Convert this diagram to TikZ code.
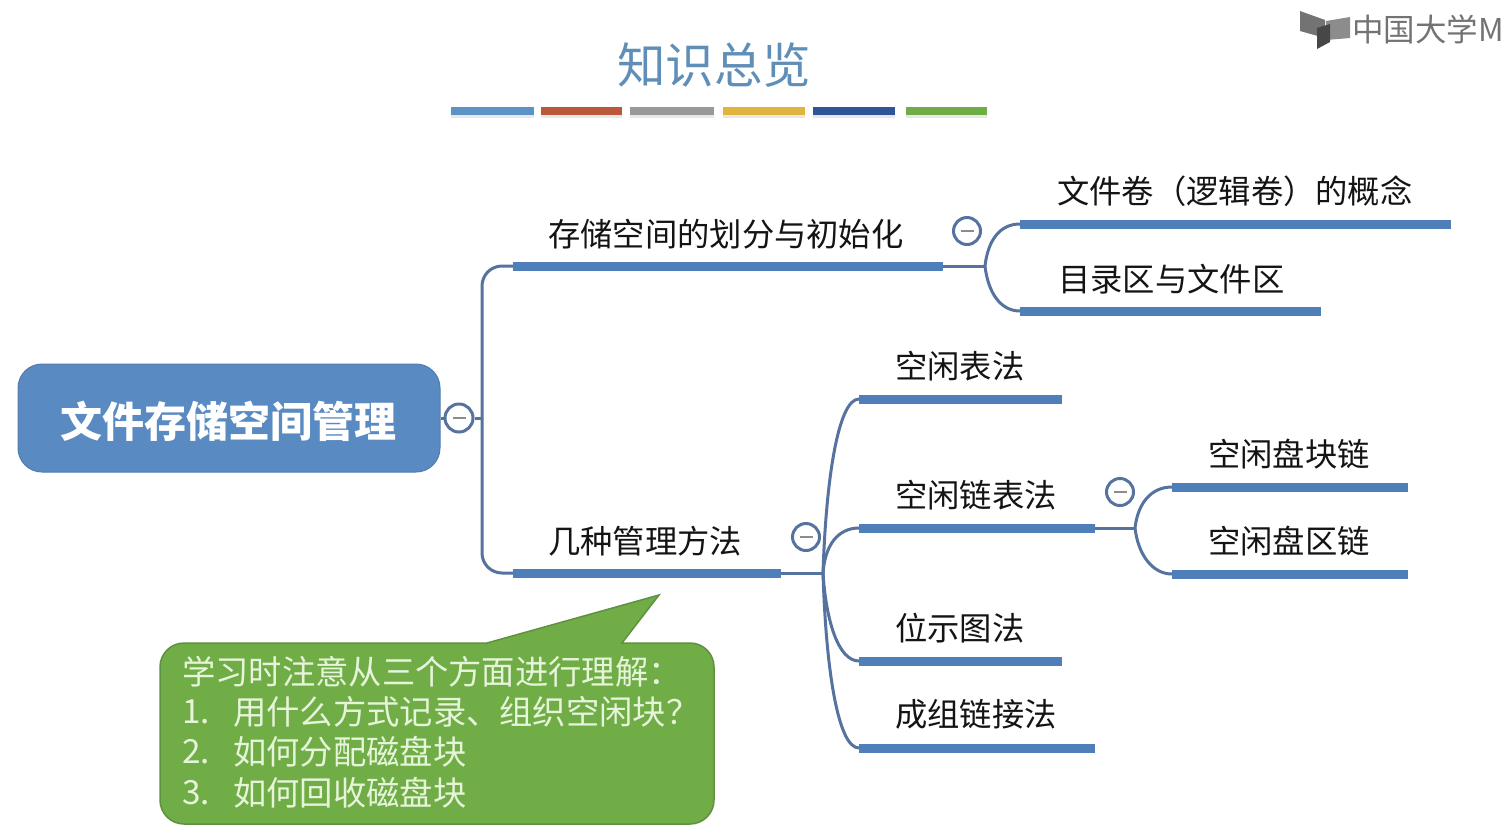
\documentclass[tikz,border=0pt]{standalone}
\usepackage{fontspec}
\setmainfont{Noto Sans CJK SC}
\definecolor{barblue}{HTML}{4F7FB9}
\definecolor{linkblue}{HTML}{56729F}
\definecolor{rootblue}{HTML}{5A8AC2}
\definecolor{calloutgreen}{HTML}{70AD47}
\definecolor{calloutedge}{HTML}{5E9140}
\definecolor{callouttext}{HTML}{E6F5D9}
\definecolor{titleblue}{HTML}{5F8FB8}
\definecolor{labeltext}{HTML}{141414}
\newcommand{\fsz}[1]{\fontsize{#1}{#1}\selectfont}
\newcommand{\minusbar}{\textcolor{black!45}{\rule[-1.4pt]{13pt}{2.8pt}}}
\tikzset{
  x=1pt,y=-1pt,
  barline/.style={draw=none,fill=barblue,rectangle,inner sep=0pt,outer sep=0pt,minimum height=9pt,anchor=west},
  lbl/.style={anchor=west,inner sep=0pt,text=labeltext,font=\fsz{32.3}},
  link/.style={draw=linkblue,line width=3pt},
  toggle/.style={circle,draw=linkblue,fill=white,line width=3pt,minimum size=28pt,inner sep=0pt},
  toggleB/.style={toggle,minimum size=27pt},
  swatch/.style={rectangle,inner sep=0pt,minimum height=8pt,anchor=west},
  swshadow/.style={fill=black!9,draw=none},
  noteline/.style={anchor=west,inner sep=0pt,text=callouttext,font=\fsz{33.3}},
}
\begin{document}
\begin{tikzpicture}
\useasboundingbox[fill=white] (0,0) rectangle (1502,831);

% title
\node[anchor=center,inner sep=0pt,text=titleblue,font=\fsz{48.5}] (title) at (714,65) {知识总览};
\foreach \a/\b/\c/\n in {451/534/5B93C5/s1,541/622/B9583B/s2,630/714/999999/s3,723/805/E3B341/s4,813/895/2F5597/s5,906/987/70AD47/s6}{
  \definecolor{swc}{HTML}{\c}
  \fill[swshadow] (\a,111) rectangle (\b,118);
  \pgfmathsetlengthmacro{\w}{(\b-\a)*1pt}
  \node[swatch,fill=swc,minimum width=\w] (\n) at (\a,111) {};
}

% logo
\fill[black!55] (1300,11) -- (1325,20) -- (1325,38) -- (1300,31) -- cycle;
\fill[black!45] (1326,21) -- (1350,17) -- (1350,38) -- (1326,40) -- cycle;
\fill[black!72] (1317,28) -- (1330,24) -- (1330,42) -- (1317,49) -- cycle;
\node[anchor=west,inner sep=0pt,text=black!55,font=\fsz{31.5}] (logo) at (1352,29) {中国大学M};

% root
\node[rectangle,rounded corners=24pt,fill=rootblue,draw=rootblue!90!black,line width=1pt,minimum width=422pt,minimum height=108pt,inner sep=0pt] (root) at (229,418) {};
\node[inner sep=0pt,text=white,font=\fsz{42}\bfseries] (rootText) at (228,421) {文件存储空间管理};
\node[toggle] (tgR) at (459,418) {\minusbar};
\coordinate (jR) at (482,418);
\draw[link] (root.east) -- (tgR.west);
\draw[link] (tgR.east) -- (jR);

% level 1
\node[barline,minimum width=430pt] (barA) at (513,266) {};
\node[lbl] (txtA) at (548,234) {存储空间的划分与初始化};
\node[barline,minimum width=268pt] (barB) at (513,573) {};
\node[lbl] (txtB) at (548,541) {几种管理方法};
\draw[link,rounded corners=20pt] (jR) |- (barA.west);
\draw[link,rounded corners=20pt] (jR) |- (barB.west);

% branch A
\coordinate (jA) at (985,266);
\node[barline,minimum width=431pt] (barA1) at (1020,224) {};
\node[lbl] (txtA1) at (1057,191) {文件卷（逻辑卷）的概念};
\node[barline,minimum width=301pt] (barA2) at (1020,311) {};
\node[lbl] (txtA2) at (1058,279) {目录区与文件区};
\node[toggleB] (tgA) at (967,231) {\minusbar};
\draw[link] (barA.east) -- (jA);
\draw[link] (jA) .. controls (988,240) and (1000,224) .. (barA1.west);
\draw[link] (jA) .. controls (988,292) and (1000,311) .. (barA2.west);

% branch B
\coordinate (jB) at (823,573);
\node[barline,minimum width=203pt] (barB1) at (859,399) {};
\node[lbl] (txtB1) at (895,366) {空闲表法};
\node[barline,minimum width=236pt] (barB2) at (859,528) {};
\node[lbl] (txtB2) at (895,495) {空闲链表法};
\node[barline,minimum width=203pt] (barB3) at (859,661) {};
\node[lbl] (txtB3) at (895,628) {位示图法};
\node[barline,minimum width=236pt] (barB4) at (859,748) {};
\node[lbl] (txtB4) at (895,714) {成组链接法};
\node[toggleB] (tgB) at (806,537) {\minusbar};
\draw[link] (barB.east) -- (jB);
\draw[link] (jB) .. controls (826,480) and (838,399) .. (barB1.west);
\draw[link] (jB) .. controls (825,545) and (838,528) .. (barB2.west);
\draw[link] (jB) .. controls (826,620) and (838,661) .. (barB3.west);
\draw[link] (jB) .. controls (826,670) and (838,748) .. (barB4.west);

% branch B2
\coordinate (jC) at (1135,528);
\node[barline,minimum width=236pt] (barC1) at (1172,487) {};
\node[lbl] (txtC1) at (1208,454) {空闲盘块链};
\node[barline,minimum width=236pt] (barC2) at (1172,574) {};
\node[lbl] (txtC2) at (1208,541) {空闲盘区链};
\node[toggleB] (tgC) at (1120,492) {\minusbar};
\draw[link] (barB2.east) -- (jC);
\draw[link] (jC) .. controls (1138,502) and (1152,487) .. (barC1.west);
\draw[link] (jC) .. controls (1138,554) and (1152,574) .. (barC2.west);

% callout
\draw[fill=calloutgreen,draw=calloutedge,line width=1.5pt,rounded corners=0pt]
  (487,643) -- (659,595) -- (622,643) -- (690,643)
  arc[start angle=90,end angle=0,x radius=24,y radius=-24] -- (714,800)
  arc[start angle=0,end angle=-90,x radius=24,y radius=-24] -- (184,824)
  arc[start angle=-90,end angle=-180,x radius=24,y radius=-24] -- (160,667)
  arc[start angle=180,end angle=90,x radius=24,y radius=-24] -- cycle;
\node[noteline] (n0) at (182,672) {学习时注意从三个方面进行理解：};
\node[noteline] (n1a) at (182,712) {1.};
\node[noteline] (n1) at (233,712) {用什么方式记录、组织空闲块？};
\node[noteline] (n2a) at (182,752) {2.};
\node[noteline] (n2) at (233,752) {如何分配磁盘块};
\node[noteline] (n3a) at (182,793) {3.};
\node[noteline] (n3) at (233,793) {如何回收磁盘块};
\end{tikzpicture}
\end{document}
